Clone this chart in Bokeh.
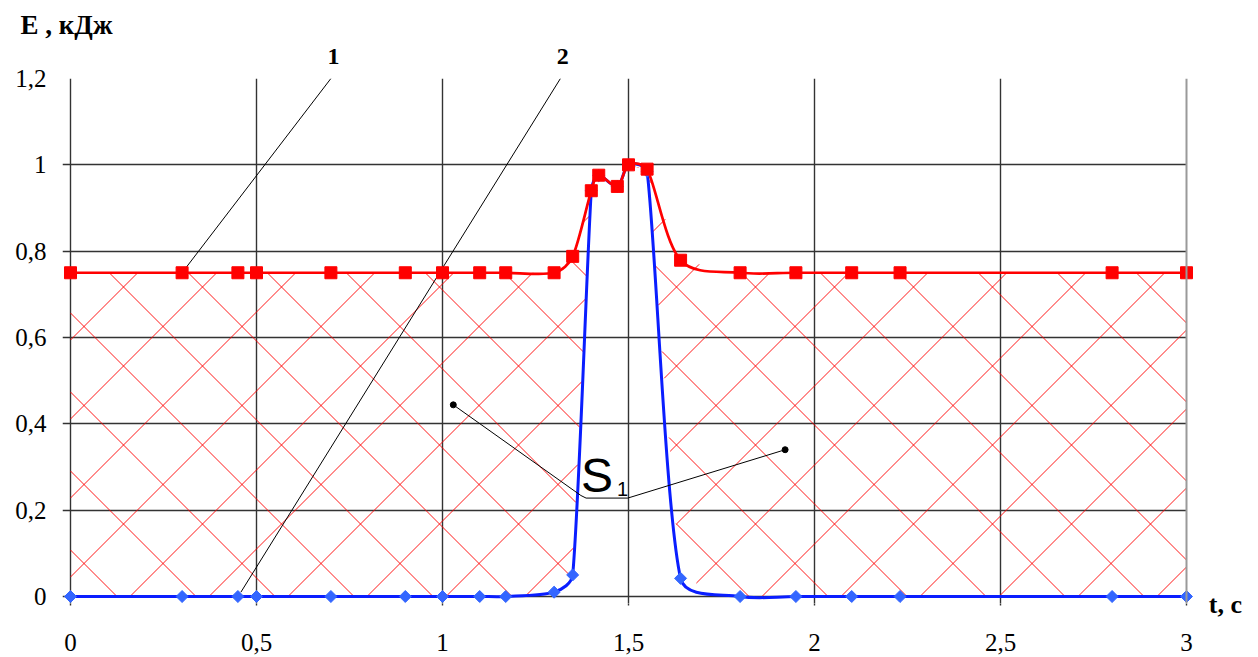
import numpy as np
from bokeh.plotting import figure
from bokeh.models import FixedTicker, Span, Label, Range1d, LinearAxis, Title, Grid
from bokeh.embed import file_html
from bokeh.resources import INLINE

# ---- data -------------------------------------------------------------
t = [0.0, 0.3, 0.45, 0.5, 0.7, 0.9, 1.0, 1.1, 1.17, 1.3, 1.35, 1.4, 1.42,
     1.47, 1.5, 1.55, 1.64, 1.8, 1.95, 2.1, 2.23, 2.8, 3.0]
e_red = [0.75, 0.75, 0.75, 0.75, 0.75, 0.75, 0.75, 0.75, 0.75, 0.75, 0.788,
         0.94, 0.976, 0.95, 1.0, 0.99, 0.779, 0.75, 0.75, 0.75, 0.75, 0.75, 0.75]
e_blue = [0.0, 0.0, 0.0, 0.0, 0.0, 0.0, 0.0, 0.0, 0.0, 0.01, 0.05,
          0.94, 0.975, 0.95, 1.0, 0.985, 0.042, 0.0, 0.0, 0.0, 0.0, 0.0, 0.0]

x_ticks = [0, 0.5, 1, 1.5, 2, 2.5, 3]
x_tick_labels = ["0", "0,5", "1", "1,5", "2", "2,5", "3"]
y_ticks = [0, 0.2, 0.4, 0.6, 0.8, 1, 1.2]
y_tick_labels = ["0", "0,2", "0,4", "0,6", "0,8", "1", "1,2"]

# curve labels "1", "2" with their pointer lines
curve_label_x = [0.707, 1.323]
curve_labels = ["1", "2"]
line1_x = [0.3, 0.70]
line1_y = [0.75, 1.2]
line2_x = [0.458, 1.317]
line2_y = [0.01, 1.2]
# S1 leader
leader_x = [1.029, 1.372, 1.386, 1.498, 1.921]
leader_y = [0.444, 0.234, 0.228, 0.228, 0.340]
dots_x = [1.029, 1.921]
dots_y = [0.444, 0.340]

# ---- geometry of the plot frame -----------------------------------------
W, H = 1258, 657
PX_X = 1116 / 3.0          # pixels per second
PX_Y = 518 / 1.2           # pixels per kJ
PAD_L, PAD_R, PAD_B = 8, 8, 7   # room so that edge markers are not cut
FL, FT = 70 - PAD_L, 78
FW = 1116 + PAD_L + PAD_R
FH = 518 + PAD_B
X0 = -PAD_L / PX_X


def smooth(xs, ys):
    """Bezier control points of a smoothed line (Catmull-Rom, chord limited)."""
    P = np.stack([np.asarray(xs, float) * PX_X, np.asarray(ys, float) * PX_Y], 1)
    prev = np.vstack([P[:1], P[:-1]])
    nxt = np.vstack([P[1:], P[-1:]])
    T = (nxt - prev) / 6.0
    span = np.linalg.norm(nxt - prev, axis=1)
    chord = np.linalg.norm(P[1:] - P[:-1], axis=1)
    c0, c1 = [], []
    for i in range(len(P) - 1):
        s0 = min(1.0, 2 * chord[i] / span[i]) if span[i] > 0 else 0.0
        s1 = min(1.0, 2 * chord[i] / span[i + 1]) if span[i + 1] > 0 else 0.0
        c0.append(P[i] + T[i] * s0)
        c1.append(P[i + 1] - T[i + 1] * s1)
    c0 = np.array(c0)
    c1 = np.array(c1)
    return dict(x0=P[:-1, 0] / PX_X, y0=P[:-1, 1] / PX_Y,
                x1=P[1:, 0] / PX_X, y1=P[1:, 1] / PX_Y,
                cx0=c0[:, 0] / PX_X, cy0=c0[:, 1] / PX_Y,
                cx1=c1[:, 0] / PX_X, cy1=c1[:, 1] / PX_Y)


def hatch_lines(xs, lo, hi, period=79, anchor=(803.5, 112.0)):
    """45-degree cross hatch clipped to the band between lo and hi."""
    gx = np.linspace(0, 3, 6001)
    glo = np.interp(gx, xs, lo)
    ghi = np.interp(gx, xs, hi)
    u = gx * PX_X
    out_x, out_y = [], []
    for s in (1, -1):
        ca = anchor[1] - s * anchor[0]
        cmin, cmax = (-1116, 518) if s == 1 else (0, 1116 + 518)
        for k in range(int(np.floor((cmin - ca) / period)) - 1,
                       int(np.ceil((cmax - ca) / period)) + 2):
            c = ca + k * period
            y = (s * u + c) / PX_Y
            inside = (y >= glo - 1e-9) & (y <= ghi + 1e-9)
            edges = np.flatnonzero(np.diff(np.concatenate([[0], inside.astype(int), [0]])))
            for a, b in zip(edges[::2], edges[1::2]):
                if b - 1 > a:
                    out_x.append([gx[a], gx[b - 1]])
                    out_y.append([y[a], y[b - 1]])
    return out_x, out_y


GRID = "#333333"
BORDER = "#9a9a9a"
SERIF = "Liberation Serif"
HAS_CROSS = "cross_bounds" in Grid.properties()

p = figure(width=W, height=H, output_backend="svg", toolbar_location=None,
           x_range=Range1d(X0, 3 + PAD_R / PX_X),
           y_range=Range1d(-PAD_B / PX_Y, 1.2),
           min_border_left=FL, min_border_right=W - FL - FW, min_border_top=FT,
           min_border_bottom=H - FT - FH)
p.outline_line_color = None

# grid (includes the t = 0 and E = 0 lines)
p.xgrid.ticker = FixedTicker(ticks=x_ticks[:-1])
p.ygrid.ticker = FixedTicker(ticks=y_ticks[:-1])
for g in (p.xgrid, p.ygrid):
    g.grid_line_color = GRID
    g.grid_line_width = 1.4
if HAS_CROSS:
    p.ygrid.cross_bounds = (X0, 3)

# axes
p.xaxis.ticker = FixedTicker(ticks=x_ticks)
p.yaxis.ticker = FixedTicker(ticks=y_ticks)
p.xaxis.major_label_overrides = dict(zip(x_ticks, x_tick_labels))
p.yaxis.major_label_overrides = dict(zip(y_ticks, y_tick_labels))
for ax in (p.xaxis, p.yaxis):
    ax.axis_line_color = None
    ax.major_tick_line_color = GRID
    ax.major_tick_line_width = 1.4
    ax.major_tick_in = 0
    ax.minor_tick_line_color = None
    ax.major_label_text_font = SERIF
    ax.major_label_text_font_size = "25px"
    ax.major_label_text_color = "black"
p.xaxis.major_tick_out = 2
p.yaxis.major_tick_out = 0
p.yaxis.major_label_standoff = 16
p.xaxis.major_label_standoff = 28

# curve labels "1", "2" on a bare top axis
top_ax = LinearAxis(ticker=FixedTicker(ticks=curve_label_x),
                    major_label_overrides=dict(zip(curve_label_x, curve_labels)),
                    axis_line_color=None, major_tick_line_color=None,
                    minor_tick_line_color=None, major_tick_out=0, major_tick_in=0,
                    major_label_standoff=15, major_label_text_font=SERIF,
                    major_label_text_font_style="bold",
                    major_label_text_font_size="24px",
                    major_label_text_color="black")
p.add_layout(top_ax, "above")
p.add_layout(Title(text="E , кДж", align="left", offset=-42, standoff=12,
                   text_font=SERIF, text_font_style="bold",
                   text_font_size="27px", text_color="black"), "above")

# frame borders (top / right), light gray
if HAS_CROSS:
    p.add_layout(Grid(dimension=1, ticker=FixedTicker(ticks=[1.2]),
                      cross_bounds=(X0, 3), grid_line_color=BORDER,
                      grid_line_width=2))
else:
    p.add_layout(Span(location=1.2, dimension="width", line_color=BORDER, line_width=2))
p.add_layout(Span(location=3, dimension="height", line_color=BORDER, line_width=2))

# cross hatch between the two curves
hx, hy = hatch_lines(t, e_blue, e_red)
p.multi_line(hx, hy, line_color="#ff0000", line_width=1, line_alpha=0.9)

# pointer lines for curve labels
p.line(line1_x, line1_y, line_color="black", line_width=1)
p.line(line2_x, line2_y, line_color="black", line_width=1)

# blue curve
p.bezier(line_color="#0a1eff", line_width=3, line_cap="round", **smooth(t, e_blue))
# red curve
p.bezier(line_color="#ff0000", line_width=2.7, line_cap="round", **smooth(t, e_red))

p.scatter(t, e_blue, marker="square", angle=0.785398, size=8.5,
          fill_color="#3366ff", line_color="#3366ff")
p.scatter(t, e_red, marker="square", size=12, fill_color="#ff0000",
          line_color="#ff0000")

# S1 leader
p.line(leader_x, leader_y, line_color="black", line_width=1)
p.scatter(dots_x, dots_y, size=6, color="black")

# texts
p.add_layout(Label(x=1.372, y=0.218, text="S", text_font="Liberation Sans",
                   text_font_size="48px", text_baseline="bottom",
                   text_color="black"))
p.add_layout(Label(x=1.469, y=0.2335, text="1", text_font="Liberation Sans",
                   text_font_size="20px", text_baseline="bottom",
                   text_color="black"))
# x-axis unit label in the right side panel
p.add_layout(Label(x=3.06, y=-0.052, text="t, c", text_font=SERIF,
                   text_font_style="bold", text_font_size="26px",
                   text_baseline="bottom", text_color="black"), "right")

open("out.html", "w").write(file_html(p, INLINE))
